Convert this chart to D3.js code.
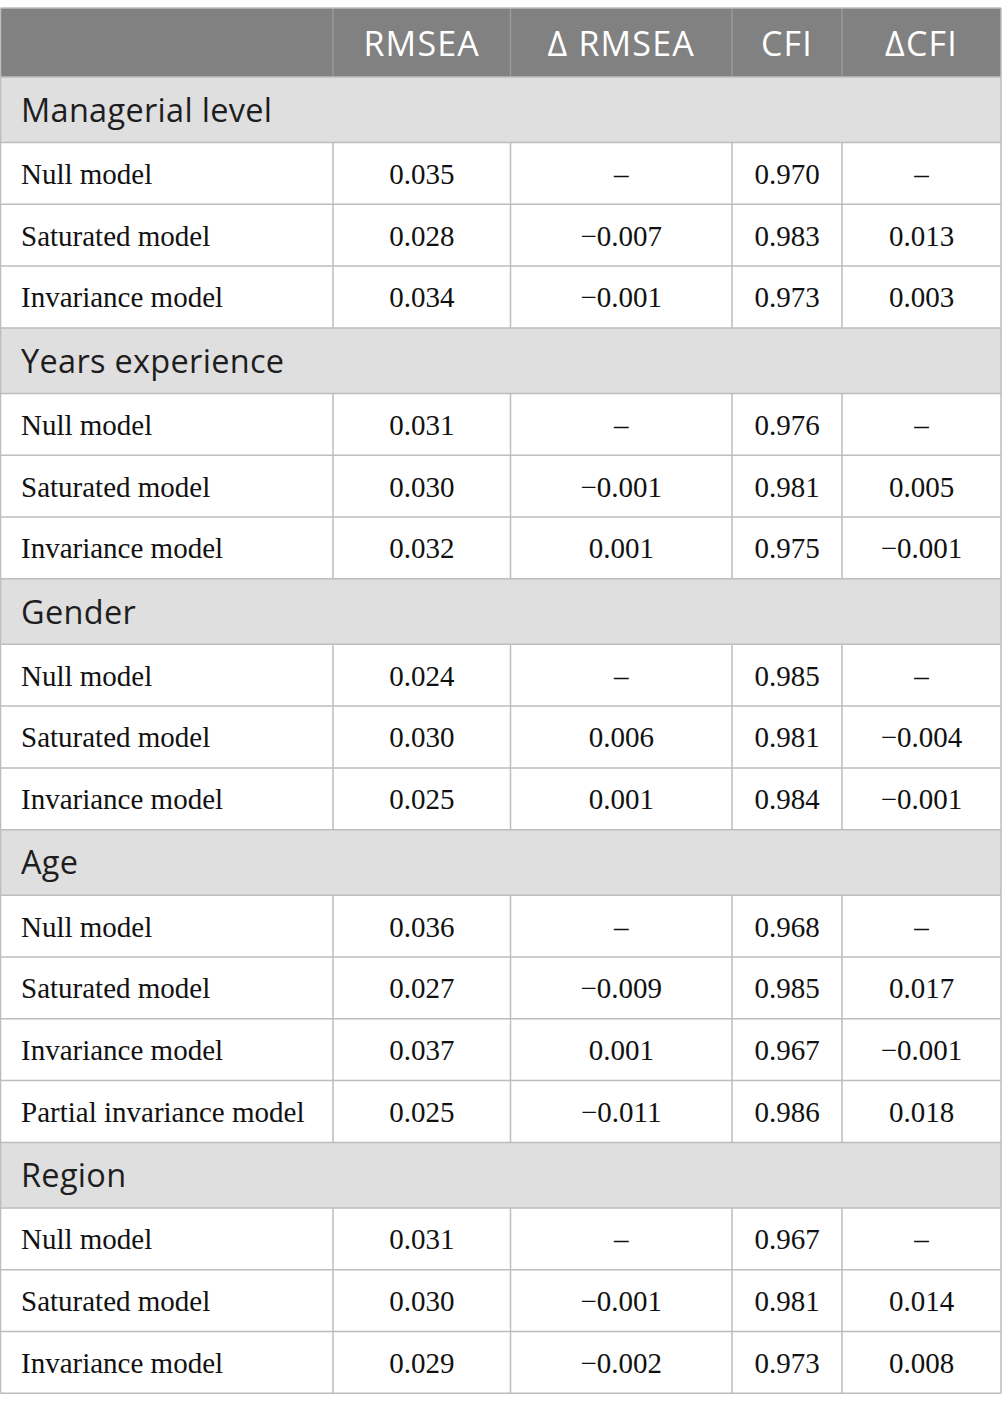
<!DOCTYPE html>
<html>
<head>
<meta charset="utf-8">
<script src="https://cdn.jsdelivr.net/npm/d3@7"></script>
<style>
  html, body { margin: 0; padding: 0; background: #fff; }
  svg { display: block; }
</style>
</head>
<body>
<div id="chart"></div>
<script>
// table content
const headers = ["", "RMSEA", "\u0394 RMSEA", "CFI", "\u0394CFI"];
const groups = ["Managerial level", "Years experience", "Gender", "Age", "Region"];
const models = [
  ["Null model", "Saturated model", "Invariance model"],
  ["Null model", "Saturated model", "Invariance model"],
  ["Null model", "Saturated model", "Invariance model"],
  ["Null model", "Saturated model", "Invariance model", "Partial invariance model"],
  ["Null model", "Saturated model", "Invariance model"]
];
const rmsea = [
  ["0.035", "0.028", "0.034"],
  ["0.031", "0.030", "0.032"],
  ["0.024", "0.030", "0.025"],
  ["0.036", "0.027", "0.037", "0.025"],
  ["0.031", "0.030", "0.029"]
];
const dRmsea = [
  ["\u2013", "\u22120.007", "\u22120.001"],
  ["\u2013", "\u22120.001", "0.001"],
  ["\u2013", "0.006", "0.001"],
  ["\u2013", "\u22120.009", "0.001", "\u22120.011"],
  ["\u2013", "\u22120.001", "\u22120.002"]
];
const cfi = [
  ["0.970", "0.983", "0.973"],
  ["0.976", "0.981", "0.975"],
  ["0.985", "0.981", "0.984"],
  ["0.968", "0.985", "0.967", "0.986"],
  ["0.967", "0.981", "0.973"]
];
const dCfi = [
  ["\u2013", "0.013", "0.003"],
  ["\u2013", "0.005", "\u22120.001"],
  ["\u2013", "\u22120.004", "\u22120.001"],
  ["\u2013", "0.017", "\u22120.001", "0.018"],
  ["\u2013", "0.014", "0.008"]
];

const W = 1002, H = 1411;
const tableTop = 8, headH = 69, groupH = 65.5, rowH = 61.8;
const colEdges = [0.5, 333, 510.5, 732, 842, 1001];
const border = "#bdbdbd";

// flatten into rows
let rows = [{type: "head", cells: headers}];
groups.forEach(function(g, gi) {
  rows.push({type: "group", cells: [g]});
  models[gi].forEach(function(m, mi) {
    rows.push({type: "data", cells: [m, rmsea[gi][mi], dRmsea[gi][mi], cfi[gi][mi], dCfi[gi][mi]]});
  });
});

let y = tableTop;
rows.forEach(function(r) {
  r.h = r.type == "head" ? headH : (r.type == "group" ? groupH : rowH);
  r.y = y;
  y += r.h;
});
const tableBottom = y;

const svg = d3.select("#chart").append("svg")
  .attr("width", W)
  .attr("height", H);

const fills = {head: "#808180", group: "#e0dfe0", data: "#ffffff"};

const rowG = svg.selectAll("g.row")
  .data(rows)
  .enter()
  .append("g")
  .attr("class", "row")
  .attr("transform", function(d) { return "translate(0," + d.y + ")"; });

rowG.append("rect")
  .attr("x", colEdges[0])
  .attr("y", 0)
  .attr("width", colEdges[5] - colEdges[0])
  .attr("height", function(d) { return d.h; })
  .attr("fill", function(d) { return fills[d.type]; });

// vertical cell lines (not in group rows)
rowG.filter(function(d) { return d.type != "group"; })
  .selectAll("line.v")
  .data(function(d) { return colEdges.slice(1, 5).map(function(x) { return {x: x, h: d.h, type: d.type}; }); })
  .enter()
  .append("line")
  .attr("x1", function(d) { return d.x; })
  .attr("x2", function(d) { return d.x; })
  .attr("y1", 0)
  .attr("y2", function(d) { return d.h; })
  .attr("stroke", function(d) { return d.type == "head" ? "#9a9a9a" : border; })
  .attr("stroke-width", 1.5);

// horizontal lines
svg.selectAll("line.h")
  .data(rows.map(function(r) { return r.y; }).concat([tableBottom]))
  .enter()
  .append("line")
  .attr("x1", colEdges[0])
  .attr("x2", colEdges[5])
  .attr("y1", function(d) { return d; })
  .attr("y2", function(d) { return d; })
  .attr("stroke", border)
  .attr("stroke-width", 1.5);

// outer side borders
[colEdges[0], colEdges[5]].forEach(function(x) {
  svg.append("line")
    .attr("x1", x).attr("x2", x)
    .attr("y1", tableTop).attr("y2", tableBottom)
    .attr("stroke", border)
    .attr("stroke-width", 1.5);
});

// text
rowG.each(function(r) {
  const g = d3.select(this);
  r.cells.forEach(function(c, i) {
    if (c === "") return;
    const t = g.append("text").text(c);
    if (r.type == "head") {
      t.attr("x", (colEdges[i] + colEdges[i + 1]) / 2)
        .attr("y", r.h / 2 + 13)
        .attr("text-anchor", "middle")
        .attr("fill", "#ffffff")
        .style("font-family", "'Open Sans', sans-serif")
        .style("font-size", "34px")
        .style("letter-spacing", "1.2px");
    } else if (r.type == "group") {
      t.attr("x", 21)
        .attr("y", r.h / 2 + 12)
        .attr("fill", "#1e1e1e")
        .style("font-family", "'Open Sans', sans-serif")
        .style("font-size", "32.5px")
        .style("letter-spacing", "0.3px");
    } else {
      t.attr("x", i == 0 ? 21 : (colEdges[i] + colEdges[i + 1]) / 2)
        .attr("y", r.h / 2 + 10.5)
        .attr("text-anchor", i == 0 ? "start" : "middle")
        .attr("fill", "#111111")
        .style("font-family", "'Liberation Serif', 'Times New Roman', serif")
        .style("font-size", "29px");
    }
  });
});
</script>
</body>
</html>
